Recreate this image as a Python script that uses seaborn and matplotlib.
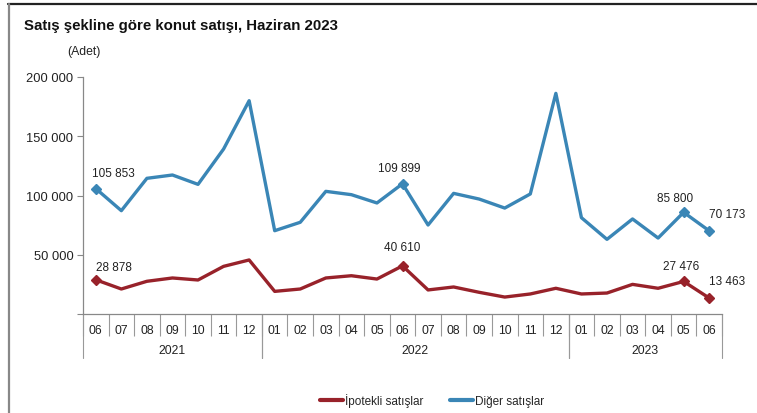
import numpy as np
import pandas as pd
import matplotlib
matplotlib.use("Agg")
import matplotlib.pyplot as plt
from matplotlib.lines import Line2D
import matplotlib.transforms as mtransforms
import seaborn as sns

months = ["06", "07", "08", "09", "10", "11", "12",
          "01", "02", "03", "04", "05", "06", "07", "08", "09", "10", "11", "12",
          "01", "02", "03", "04", "05", "06"]
years = ["2021", "2022", "2023"]
year_spans = [(0, 7), (7, 19), (19, 25)]

ipotekli = [28878, 21100, 27600, 30400, 28700, 40200, 45600,
            19100, 21100, 30400, 32300, 29500, 40610, 20300, 22800, 18300, 14300, 16900, 21700,
            16900, 17700, 25000, 21700, 27476, 13463]
diger = [105853, 87200, 114500, 117300, 109400, 139200, 180000,
         70300, 77400, 103500, 100700, 93700, 109899, 75100, 101800, 97000, 89400, 101300, 186200,
         81300, 63000, 80200, 64100, 85800, 70173]

ipotekli_labeled = [0, 12, 23, 24]
diger_labeled = [0, 12, 23, 24]

series_names = ["İpotekli satışlar", "Diğer satışlar"]
colors = ["#98222a", "#3a86b6"]

sns.set_theme(style="white")
plt.rcParams['font.family'] = ['Liberation Sans', 'DejaVu Sans']

fig = plt.figure(figsize=(7.57, 4.14), dpi=100)
ax = fig.add_axes([83/757, 1-315/414, (722-83)/757, (315-78)/414])

x = np.arange(len(months))
df = pd.DataFrame({
    "x": np.concatenate([x, x]),
    "value": ipotekli + diger,
    "series": [series_names[0]] * len(x) + [series_names[1]] * len(x),
})
sns.lineplot(data=df, x="x", y="value", hue="series", palette=colors,
             linewidth=2.4, ax=ax, legend=False)

# markers and labels
label_cfg = {
    0: [(0, 5, 'left'), (0, 9, 'center'), (-2, 7, 'center'), (0, 8, 'left')],
    1: [(-3, 7, 'left'), (-2, 7, 'center'), (-6, 6, 'center'), (0, 8, 'left')],
}
for si, (vals, idxs) in enumerate([(ipotekli, ipotekli_labeled), (diger, diger_labeled)]):
    xs = [x[i] for i in idxs]
    ys = [vals[i] for i in idxs]
    ax.plot(xs, ys, linestyle='none', marker='D', markersize=5, color=colors[si])
    for k, i in enumerate(idxs):
        dx, dy, ha = label_cfg[si][k]
        ax.annotate(f"{vals[i]:,}".replace(",", " "), (x[i], vals[i]),
                    xytext=(dx, dy), textcoords='offset points',
                    ha=ha, va='bottom', fontsize=8.5, color='#222222')

ax.set_xlim(-0.5, len(months) - 0.5)
ax.set_ylim(0, 200000)
ax.set_yticks([0, 50000, 100000, 150000, 200000])
ax.set_yticklabels(["", "50 000", "100 000", "150 000", "200 000"])
ax.tick_params(axis='y', which='major', direction='out', length=4, width=0.8,
               color='#888888', labelsize=9.3, labelcolor='#222222', pad=3, left=True)
ax.set_xlabel("")
ax.set_ylabel("")

# x axis: boundaries as major ticks, labels as minor
ax.set_xticks(np.arange(-0.5, len(months)))
ax.set_xticklabels([])
ax.set_xticks(x, minor=True)
ax.set_xticklabels(months, minor=True)
ax.tick_params(axis='x', which='major', direction='out', length=16, width=0.8,
               color='#999999', bottom=True)
ax.tick_params(axis='x', which='minor', length=0, labelsize=8.8, labelcolor='#222222', pad=7)

for s in ['top', 'right']:
    ax.spines[s].set_visible(False)
for s in ['left', 'bottom']:
    ax.spines[s].set_color('#888888')
    ax.spines[s].set_linewidth(0.9)

trans = mtransforms.blended_transform_factory(ax.transData, ax.transAxes)
ybot = -(359 - 315) / 237
for (a, b), yr in zip(year_spans, years):
    for edge in (a - 0.5, b - 0.5):
        ax.add_line(Line2D([edge, edge], [0, ybot], transform=trans, color='#999999',
                           linewidth=0.8, clip_on=False))
    ax.text((a + b - 1) / 2, -(351 - 315) / 237, yr, transform=trans, ha='center',
            va='center', fontsize=8.8, color='#222222')

# title and unit
fig.text(24/757, 1-26/414, "Satış şekline göre konut satışı, Haziran 2023",
         fontsize=10.8, fontweight='bold', ha='left', va='center', color='#111111')
fig.text(67/757, 1-52/414, "(Adet)", fontsize=8.8, ha='left', va='center', color='#222222')

# legend
handles = [Line2D([0], [0], color=c, linewidth=3) for c in colors]
fig.legend(handles, series_names, loc='center', bbox_to_anchor=(432/757, 1-401/414),
           ncol=2, frameon=False, fontsize=8.5, handlelength=2.0, handletextpad=0.15,
           columnspacing=2.2)

# frame lines
fig.add_artist(Line2D([8/757, 1], [1-5/414, 1-5/414], transform=fig.transFigure,
                      color='#222222', linewidth=1.6))
fig.add_artist(Line2D([9/757, 9/757], [0, 1-5/414], transform=fig.transFigure,
                      color='#888888', linewidth=1.6))

fig.savefig("out.png", dpi=100)
